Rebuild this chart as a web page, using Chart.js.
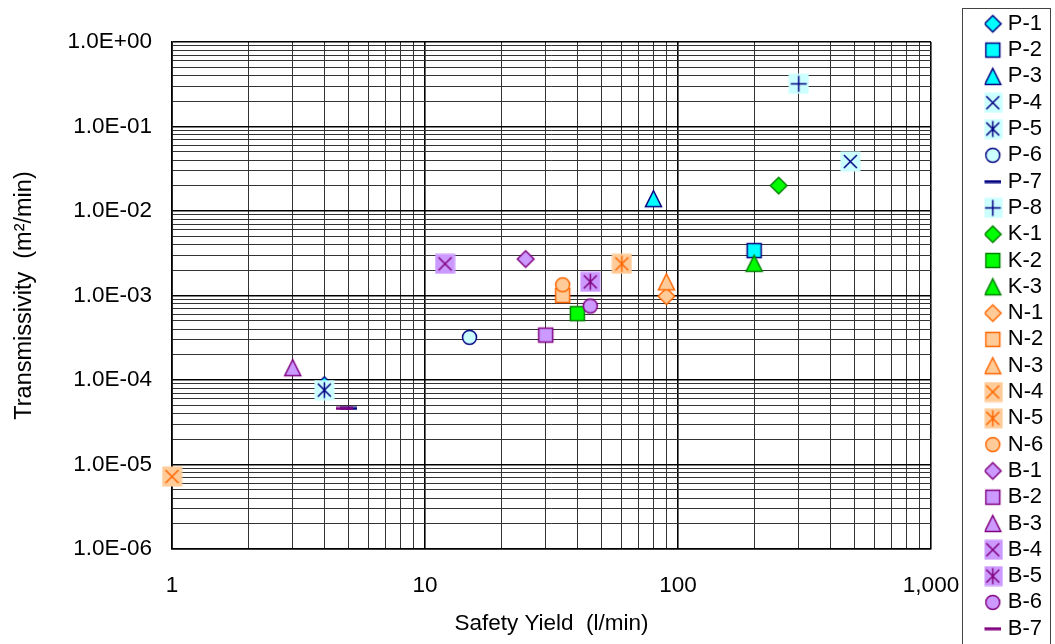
<!DOCTYPE html>
<html>
<head>
<meta charset="utf-8">
<script src="https://cdn.jsdelivr.net/npm/chart.js@4.4.0/dist/chart.umd.min.js"></script>
<style>
    html, body { margin: 0; padding: 0; background: #fff; }
    #wrap { width: 1055px; height: 644px; position: relative; }
</style>
</head>
<body>
<div id="wrap"><canvas id="myChart"></canvas></div>
<script>
// values (P-1 sits mostly hidden behind P-5)
var seriesNames = ['P-1', 'P-2', 'P-3', 'P-4', 'P-5', 'P-6', 'P-7', 'P-8',
    'K-1', 'K-2', 'K-3',
    'N-1', 'N-2', 'N-3', 'N-4', 'N-5', 'N-6',
    'B-1', 'B-2', 'B-3', 'B-4', 'B-5', 'B-6', 'B-7'];
var safetyYield = [4, 200, 80, 480, 4, 15, 5.0, 300,
    250, 40, 200,
    90, 35, 90, 1, 60, 35,
    25, 30, 3, 12, 45, 45, 4.8];
var transmissivity = [8.7e-5, 3.4e-3, 1.4e-2, 3.85e-2, 7.6e-5, 3.2e-4, 4.6e-5, 0.32,
    2.0e-2, 6.1e-4, 2.4e-3,
    9.8e-4, 1.0e-3, 1.45e-3, 7.2e-6, 2.37e-3, 1.34e-3,
    2.7e-3, 3.4e-4, 1.4e-4, 2.37e-3, 1.45e-3, 7.5e-4, 4.6e-5];
var seriesShapes = ['diamond', 'square', 'triangle', 'cross', 'star', 'circle', 'dash', 'plus',
    'diamond', 'square', 'triangle',
    'diamond', 'square', 'triangle', 'cross', 'star', 'circle',
    'diamond', 'square', 'triangle', 'cross', 'star', 'circle', 'dash'];
var xTickLabels = ['1', '10', '100', '1,000'];          // 10^0 .. 10^3
var yTickLabels = ['1.0E-06', '1.0E-05', '1.0E-04', '1.0E-03', '1.0E-02', '1.0E-01', '1.0E+00'];

var groupFill = {P: '#00FFFF', K: '#00FF00', N: '#FFCC99', B: '#CC99FF'};
var groupBack = {P: '#CCFFFF', K: '#CCFFCC', N: '#FFCC99', B: '#CC99FF'};
var groupLine = {P: '#000080', K: '#008000', N: '#FF6600', B: '#800080'};

var FONT = "'Liberation Sans', Arial, sans-serif";

function makeMarker(shape, group) {
    var c = document.createElement('canvas');
    var w = 21, h = 21;
    if (shape === 'dash') { w = 17; h = 4; }
    c.width = w; c.height = h;
    var g = c.getContext('2d');
    g.lineWidth = 1.5;
    g.strokeStyle = groupLine[group];
    g.fillStyle = groupFill[group];
    if (shape === 'diamond') {
        g.beginPath();
        g.moveTo(10.5, 2.2); g.lineTo(18.8, 10.5); g.lineTo(10.5, 18.8); g.lineTo(2.2, 10.5);
        g.closePath(); g.fill(); g.stroke();
    } else if (shape === 'square') {
        g.fillRect(3.5, 3.5, 14, 14);
        g.strokeRect(3.5, 3.5, 14, 14);
    } else if (shape === 'triangle') {
        g.beginPath();
        g.moveTo(10.5, 2.5); g.lineTo(18.5, 18.5); g.lineTo(2.5, 18.5);
        g.closePath(); g.fill(); g.stroke();
    } else if (shape === 'circle') {
        g.fillStyle = groupBack[group];
        g.beginPath(); g.arc(10.5, 10.5, 7, 0, Math.PI * 2);
        g.fill(); g.stroke();
    } else if (shape === 'dash') {
        g.fillStyle = groupLine[group];
        g.fillRect(0, 0.5, 17, 3);
    } else {
        g.fillStyle = groupBack[group];
        g.fillRect(0.5, 0.5, 20, 20);
        g.beginPath();
        if (shape === 'cross' || shape === 'star') {
            g.moveTo(4, 4); g.lineTo(17, 17);
            g.moveTo(17, 4); g.lineTo(4, 17);
        }
        if (shape === 'star') {
            g.moveTo(10.5, 2.5); g.lineTo(10.5, 18.5);
        }
        if (shape === 'plus') {
            g.moveTo(10.5, 2.5); g.lineTo(10.5, 18.5);
            g.moveTo(2.5, 10.5); g.lineTo(18.5, 10.5);
        }
        g.stroke();
    }
    return c;
}

function decadeTicks(minExp, maxExp) {
    var t = [];
    for (var e = minExp; e < maxExp; e++) {
        for (var m = 1; m < 10; m++) t.push({value: m * Math.pow(10, e)});
    }
    t.push({value: Math.pow(10, maxExp)});
    return t;
}

function isDecade(v) {
    var l = Math.log10(v);
    return Math.abs(l - Math.round(l)) < 1e-6;
}

var datasets = seriesNames.map(function (name, i) {
    var group = name.charAt(0);
    var pts = safetyYield[i] == null ? [] : [{x: safetyYield[i], y: transmissivity[i]}];
    return {
        label: name,
        data: pts,
        pointStyle: makeMarker(seriesShapes[i], group),
        pointRadius: 10,
        pointHoverRadius: 10,
        showLine: false,
        clip: false,
        order: seriesNames.length - i
    };
});

// legend sits in its own framed box right of the plot, not glued to it
var legendFrame = {
    id: 'legendFrame',
    afterLayout: function (chart) {
        var lg = chart.legend;
        lg.left = 984.5;
        lg.right = lg.left + lg.width;
        lg.top = 8.5;
        lg.bottom = 720;
    },
    afterDraw: function (chart) {
        var ctx = chart.ctx;
        ctx.save();
        ctx.strokeStyle = '#444';
        ctx.lineWidth = 1;
        ctx.strokeRect(962.5, 8.5, 88, 660);
        ctx.restore();
    }
};

var gridColor = function (c) { return c.tick && isDecade(c.tick.value) ? '#000' : '#333'; };
var gridWidth = function (c) { return c.tick && isDecade(c.tick.value) ? 1.6 : 1; };

var myChart = new Chart(document.getElementById('myChart'), {
    type: 'scatter',
    data: {datasets: datasets},
    options: {
        responsive: true,
        maintainAspectRatio: false,
        animation: false,
        plugins: {
            tooltip: {enabled: false},
            legend: {
                position: 'right',
                align: 'start',
                labels: {
                    usePointStyle: true,
                    boxWidth: 8,
                    padding: 4.3,
                    color: '#000',
                    font: {family: FONT, size: 22},
                    sort: function (a, b) { return a.datasetIndex - b.datasetIndex; }
                }
            }
        },
        scales: {
            x: {
                type: 'logarithmic',
                min: 1,
                max: 1000,
                afterBuildTicks: function (scale) { scale.ticks = decadeTicks(0, 3); },
                afterFit: function (scale) {
                    scale.height = 95;
                    scale.paddingRight = 124;
                },
                ticks: {
                    autoSkip: false,
                    maxRotation: 0,
                    minRotation: 0,
                    padding: 23,
                    color: '#000',
                    font: {family: FONT, size: 22.5},
                    callback: function (v) {
                        return isDecade(v) ? xTickLabels[Math.round(Math.log10(v))] : '';
                    }
                },
                grid: {drawTicks: false, color: gridColor, lineWidth: gridWidth},
                border: {color: '#000', width: 1.6},
                title: {
                    display: true,
                    text: 'Safety Yield  (l/min)',
                    color: '#000',
                    font: {family: FONT, size: 22.5},
                    padding: {top: 7, bottom: 7}
                }
            },
            y: {
                type: 'logarithmic',
                min: 1e-6,
                max: 1,
                afterBuildTicks: function (scale) { scale.ticks = decadeTicks(-6, 0); },
                afterFit: function (scale) {
                    scale.width = 172;
                    scale.paddingTop = 42;
                },
                ticks: {
                    autoSkip: false,
                    padding: 20,
                    color: '#000',
                    font: {family: FONT, size: 22.5},
                    callback: function (v) {
                        return isDecade(v) ? yTickLabels[Math.round(Math.log10(v)) + 6] : '';
                    }
                },
                grid: {drawTicks: false, color: gridColor, lineWidth: gridWidth},
                border: {color: '#000', width: 1.6},
                title: {
                    display: true,
                    text: 'Transmissivity  (m\u00B2/min)',
                    color: '#000',
                    font: {family: FONT, size: 23.5},
                    padding: {top: 10, bottom: 10}
                }
            }
        }
    },
    plugins: [legendFrame]
});
</script>
</body>
</html>
